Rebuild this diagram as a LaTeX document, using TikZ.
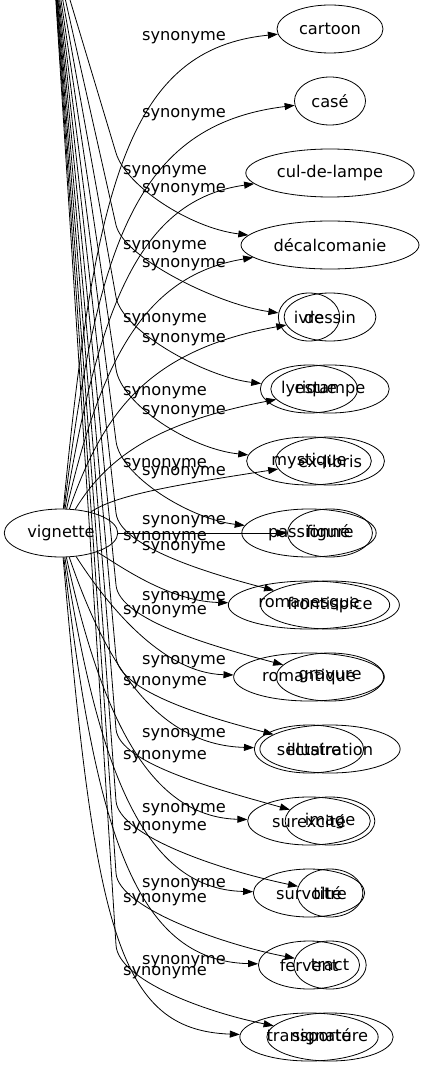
\documentclass[tikz,border=0pt]{standalone}
\usepackage{fontspec}
\setmainfont{DejaVu Sans}
\usetikzlibrary{arrows.meta,shapes.geometric}
\begin{document}
\begin{tikzpicture}[x=1pt,y=-1pt,line width=0.8pt,
    font=\fontsize{16.2pt}{19pt}\selectfont,
    >={Triangle[length=10pt,width=7pt]},
    word/.style={ellipse,draw,inner xsep=6.5pt,inner ysep=2pt,minimum height=48pt},
    syn/.style={inner sep=0pt}]
  \clip (0,0) rectangle (421,1067);
  \coordinate (top) at (52,-60);
  \draw
    (61,533) node[word] (vignette){vignette}
    (330,29) node[word] (cartoon){cartoon}
    (330,101) node[word] (case){casé}
    (330,173) node[word] (culdelampe){cul-de-lampe}
    (330,245) node[word] (decalcomanie){décalcomanie}
    (330,317) node[word] (dessin){dessin}
    (330,389) node[word] (estampe){estampe}
    (330,461) node[word] (exlibris){ex-libris}
    (330,533) node[word] (figure){figure}
    (330,605) node[word] (frontispice){frontispice}
    (330,677) node[word] (gravure){gravure}
    (330,749) node[word] (illustration){illustration}
    (330,821) node[word] (image){image}
    (330,893) node[word] (titre){titre}
    (330,965) node[word] (tract){tract}
    (330,1037) node[word] (signature){signature}
    (309,317) node[word] (ivre){ivre}
    (309,389) node[word] (lyrique){lyrique}
    (309,461) node[word] (mystique){mystique}
    (309,533) node[word] (passionne){passionné}
    (309,605) node[word] (romanesque){romanesque}
    (309,677) node[word] (romantique){romantique}
    (309,749) node[word] (sectaire){sectaire}
    (309,821) node[word] (surexcite){surexcité}
    (309,893) node[word] (survolte){survolté}
    (309,965) node[word] (fervent){fervent}
    (309,1037) node[word] (transporte){transporté};
  % labels
  \draw
    (184,38) node[syn] (s1){synonyme}
    (184,115) node[syn] (s2){synonyme}
    (184,190) node[syn] (s3){synonyme}
    (184,265) node[syn] (s4){synonyme}
    (184,340) node[syn] (s5){synonyme}
    (184,412) node[syn] (s6){synonyme}
    (184,473) node[syn] (s7){synonyme}
    (184,522) node[syn] (s8){synonyme}
    (184,548) node[syn] (s9){synonyme}
    (184,598) node[syn] (s10){synonyme}
    (184,662) node[syn] (s11){synonyme}
    (184,735) node[syn] (s12){synonyme}
    (184,810) node[syn] (s13){synonyme}
    (184,885) node[syn] (s14){synonyme}
    (184,962) node[syn] (s15){synonyme}
    (165,172) node[syn] (t4){synonyme}
    (165,247) node[syn] (t5){synonyme}
    (165,320) node[syn] (t6){synonyme}
    (165,393) node[syn] (t7){synonyme}
    (165,465) node[syn] (t8){synonyme}
    (165,538) node[syn] (t9){synonyme}
    (165,612) node[syn] (t10){synonyme}
    (165,683) node[syn] (t11){synonyme}
    (165,757) node[syn] (t12){synonyme}
    (165,828) node[syn] (t13){synonyme}
    (165,900) node[syn] (t14){synonyme}
    (165,973) node[syn] (t15){synonyme};
  \begin{scope}[->]
    \draw (vignette) .. controls (95,180) and (130,49) .. (cartoon);
    \draw (vignette) .. controls (97,245) and (135,125) .. (case);
    \draw (vignette) .. controls (99,305) and (140,200) .. (culdelampe);
    \draw (vignette) .. controls (101,360) and (145,275) .. (decalcomanie);
    \draw (vignette) .. controls (104,410) and (150,350) .. (dessin);
    \draw (vignette) .. controls (108,455) and (160,422) .. (estampe);
    \draw (vignette) .. controls (115,495) and (175,485) .. (exlibris);
    \draw (vignette) -- (figure);
    \draw (vignette) .. controls (112,560) and (165,601) .. (romanesque);
    \draw (vignette) .. controls (104,600) and (160,673) .. (romantique);
    \draw (vignette) .. controls (101,650) and (150,745) .. (sectaire);
    \draw (vignette) .. controls (99,705) and (145,817) .. (surexcite);
    \draw (vignette) .. controls (97,760) and (140,889) .. (survolte);
    \draw (vignette) .. controls (95,830) and (135,961) .. (fervent);
    \draw (vignette) .. controls (95,930) and (118,1030) .. (transporte);
    \draw (top) -- (116,153) .. controls (126,186) and (190,228) .. (decalcomanie);
    \draw (top) -- (116,225) .. controls (124,259) and (220,305) .. (ivre);
    \draw (top) -- (116,297) .. controls (122,331) and (205,377) .. (lyrique);
    \draw (top) -- (116,369) .. controls (121,404) and (190,449) .. (mystique);
    \draw (top) -- (116,441) .. controls (120,476) and (190,519) .. (passionne);
    \draw (top) -- (116,513) .. controls (120,548) and (215,575) .. (frontispice);
    \draw (top) -- (116,585) .. controls (119,620) and (215,647) .. (gravure);
    \draw (top) -- (116,657) .. controls (119,692) and (210,718) .. (illustration);
    \draw (top) -- (116,729) .. controls (119,764) and (220,790) .. (image);
    \draw (top) -- (116,801) .. controls (119,836) and (220,870) .. (titre);
    \draw (top) -- (116,873) .. controls (118,908) and (225,945) .. (tract);
    \draw (top) -- (116,945) .. controls (118,980) and (205,1012) .. (signature);
  \end{scope}
\end{tikzpicture}
\end{document}
